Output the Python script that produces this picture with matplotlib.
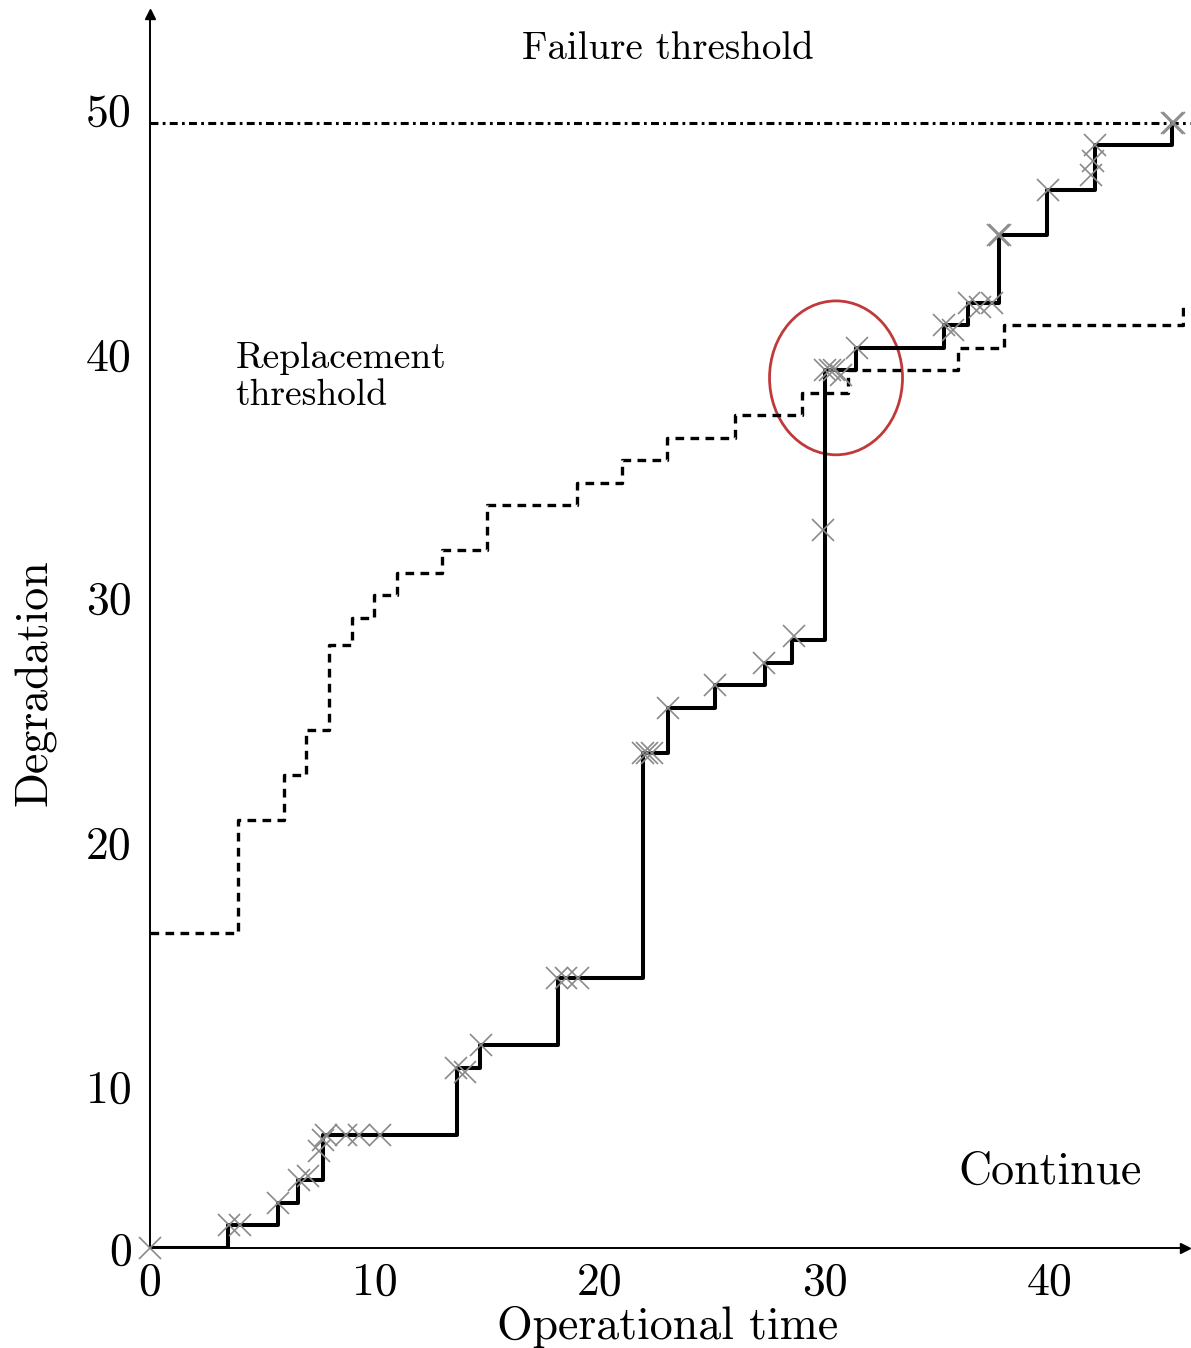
import matplotlib
matplotlib.use("Agg")
import matplotlib.pyplot as plt
from matplotlib.patches import Ellipse

plt.rcParams['font.family'] = 'cmr10'
plt.rcParams['axes.formatter.use_mathtext'] = True

# solid degradation path (jump times and levels after each jump)
deg_time = [0, 3.47, 5.69, 6.58, 7.69, 13.64, 14.67, 18.13, 21.91, 23.02, 25.11,
            27.33, 28.53, 30.0, 31.38, 35.29, 36.36, 37.73, 39.87, 42.0, 45.42]
deg_level = [0, 1, 2, 3, 5, 8, 9, 12, 22, 24, 25,
             26, 27, 39, 40, 41, 42, 45, 47, 49, 50]

# dashed replacement threshold
rep_time = [0, 3.91, 5.96, 6.93, 7.96, 8.98, 9.96, 10.98, 12.98, 14.98, 18.98,
            20.98, 22.98, 26.0, 28.98, 31.02, 35.91, 37.96, 45.91]
rep_level = [14, 19, 21, 23, 26.8, 28, 29, 30, 31, 33, 34,
             35, 36, 37, 38, 39, 40, 41, 42]

# observations (gray crosses)
obs_time = [0, 3.5, 4.0, 5.7, 6.6, 7.0, 7.5, 7.7, 7.8, 8.7, 9.3, 10.2, 13.6, 14.0,
            14.7, 18.1, 18.5, 19.0, 21.9, 22.1, 22.3, 23.0, 25.1, 27.3, 28.6, 29.9,
            30.0, 30.2, 30.4, 30.7, 31.4, 35.3, 35.7, 36.4, 36.9, 37.4, 37.7, 37.8,
            39.9, 41.8, 41.9, 42.0, 45.4, 45.5]
obs_level = [0, 1, 1, 2, 3, 3.2, 4.3, 4.8, 5, 5, 5, 5, 8, 7.8,
             9, 12, 12, 12, 22, 22, 22, 24, 25, 26, 27.2, 31.9,
             39, 39, 39, 38.8, 40, 41, 40.8, 42, 41.8, 42, 45, 45,
             47, 47.7, 48.3, 49, 50, 50]

failure_level = 50

xticks = [0, 10, 20, 30, 40]
# y labels sit where the original figure put them
ytick_pos = [0, 7.16, 18.04, 28.93, 39.69, 50.58]
ytick_lab = ['0', '10', '20', '30', '40', '50']

fig = plt.figure(figsize=(11.91, 13.48), dpi=100)
ax = fig.add_axes([150 / 1191, 100 / 1348, 1035 / 1191, 1234 / 1348])
ax.set_xlim(0, 46.0)
ax.set_ylim(0, 54.84)

ax.axhline(failure_level, xmin=0, xmax=1.005, color='black', lw=2.2,
           linestyle=(0, (2.6, 1.4, 0.9, 1.4)), clip_on=False)
ax.plot(rep_time, rep_level, drawstyle='steps-post', color='black', lw=2.4,
        linestyle=(0, (2.6, 1.9)))
ax.plot(deg_time, deg_level, drawstyle='steps-post', color='black', lw=2.9)
ax.plot(obs_time, obs_level, 'x', color='#8a8a8a', ms=16, mew=1.2, zorder=4,
        clip_on=False)

ax.add_patch(Ellipse((30.49, 38.67), 5.91, 6.84, fill=False, edgecolor='#c0393b', lw=2.0))

ax.text(23.0, 53.3, 'Failure threshold', fontsize=28, ha='center', va='center')
ax.text(3.8, 38.7, 'Replacement\nthreshold', fontsize=27, ha='left', va='center',
        linespacing=1.15)
ax.text(40.0, 3.4, 'Continue', fontsize=33, ha='center', va='center')

for side in ['top', 'right']:
    ax.spines[side].set_visible(False)
for side in ['left', 'bottom']:
    ax.spines[side].set_linewidth(1.4)
ax.plot(1, 0, '>k', ms=7, transform=ax.transAxes, clip_on=False)
ax.plot(0, 1, '^k', ms=7, transform=ax.transAxes, clip_on=False)

ax.set_xticks(xticks)
ax.set_xticklabels([str(t) for t in xticks])
ax.set_yticks(ytick_pos)
ax.set_yticklabels(ytick_lab)
ax.tick_params(length=0, labelsize=33)
ax.tick_params(axis='x', pad=10)
ax.tick_params(axis='y', pad=13)

ax.set_xlabel('Operational time', fontsize=33)
ax.xaxis.set_label_coords(0.5, -0.047)
ax.set_ylabel('Degradation', fontsize=33)
ax.yaxis.set_label_coords(-0.09, 0.458)

fig.savefig('out.png', dpi=100)
